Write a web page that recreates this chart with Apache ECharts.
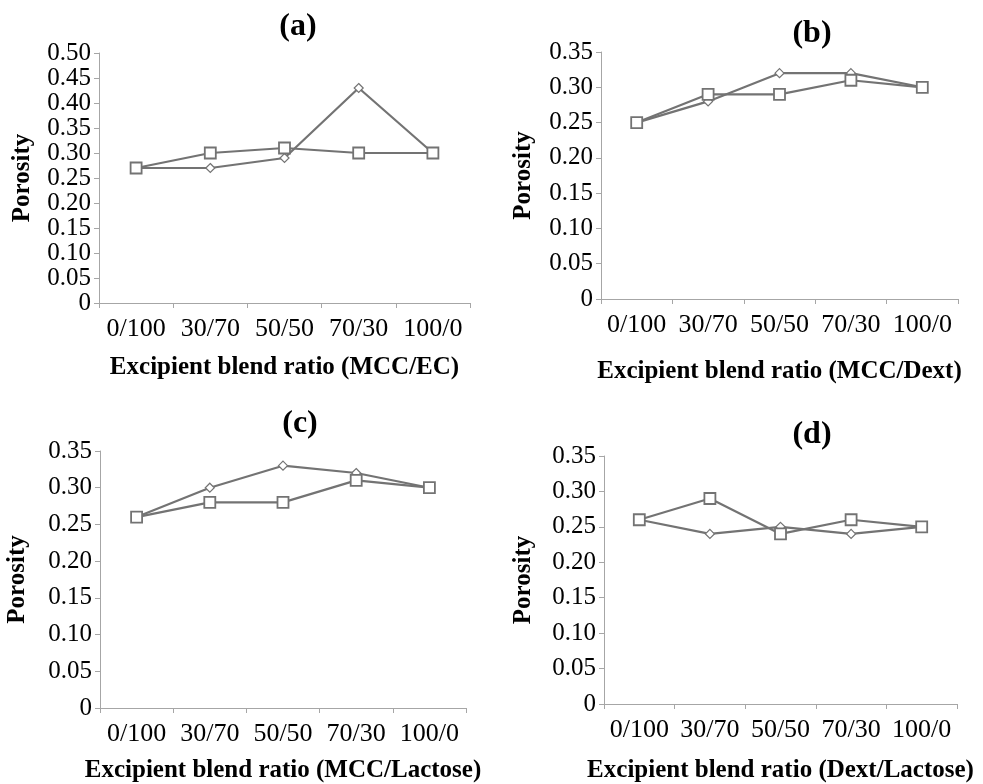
<!DOCTYPE html>
<html><head><meta charset="utf-8">
<script src="https://cdn.jsdelivr.net/npm/echarts@6/dist/echarts.min.js"></script>
<style>html,body{margin:0;padding:0;background:#fff}#c{width:983px;height:784px}</style>
</head><body><div id="c"></div>
<script>
const categories = ['0/100','30/70','50/50','70/30','100/0'];
const panelTitles = ['(a)','(b)','(c)','(d)'];
const xTitles = ['Excipient blend ratio (MCC/EC)','Excipient blend ratio (MCC/Dext)','Excipient blend ratio (MCC/Lactose)','Excipient blend ratio (Dext/Lactose)'];
const yMax = [0.50, 0.35, 0.35, 0.35];
const aDiamond = [0.27, 0.27, 0.29, 0.43, 0.30];
const aSquare  = [0.27, 0.30, 0.31, 0.30, 0.30];
const bDiamond = [0.25, 0.28, 0.32, 0.32, 0.30];
const bSquare  = [0.25, 0.29, 0.29, 0.31, 0.30];
const cDiamond = [0.26, 0.30, 0.33, 0.32, 0.30];
const cSquare  = [0.26, 0.28, 0.28, 0.31, 0.30];
const dDiamond = [0.26, 0.24, 0.25, 0.24, 0.25];
const dSquare  = [0.26, 0.29, 0.24, 0.26, 0.25];

const diamonds = [aDiamond, bDiamond, cDiamond, dDiamond];
const squares = [aSquare, bSquare, cSquare, dSquare];

const FONT = '"Liberation Serif", "Times New Roman", serif';
const grids = [
  {left: 99, top: 53, width: 371, height: 250},
  {left: 601, top: 52, width: 357, height: 247},
  {left: 100, top: 451, width: 366, height: 257},
  {left: 604, top: 456, width: 353, height: 251}
];
const titlePos = [[293, 6], [807, 13], [295, 403], [807, 414]];
const xNameGap = [52, 60, 50, 54];
const yNameGap = [64, 65, 70, 68];
const axisColor = '#a6a6a6';
const lineColor = '#737373';

const option = {
  animation: false,
  backgroundColor: '#fff',
  title: panelTitles.map((t, i) => ({
    text: t, left: titlePos[i][0], top: titlePos[i][1], textAlign: 'center',
    textStyle: {fontFamily: FONT, fontWeight: 'bold', fontSize: 32, color: '#000'}
  })),
  grid: grids.map(g => Object.assign({containLabel: false}, g)),
  xAxis: grids.map((g, i) => ({
    type: 'category', gridIndex: i, data: categories, boundaryGap: true,
    name: xTitles[i], nameLocation: 'middle', nameGap: xNameGap[i],
    nameTextStyle: {fontFamily: FONT, fontWeight: 'bold', fontSize: 25, color: '#000'},
    axisLine: {lineStyle: {color: axisColor, width: 1}},
    axisTick: {show: true, length: 5, lineStyle: {color: axisColor}},
    axisLabel: {fontFamily: FONT, fontSize: 26, color: '#000', margin: 13, interval: 0}
  })),
  yAxis: grids.map((g, i) => ({
    type: 'value', gridIndex: i, min: 0, max: yMax[i], interval: 0.05,
    name: 'Porosity', nameLocation: 'middle', nameGap: yNameGap[i], nameRotate: 90,
    nameTextStyle: {fontFamily: FONT, fontWeight: 'bold', fontSize: 25, color: '#000'},
    axisLine: {show: true, lineStyle: {color: axisColor, width: 1}},
    axisTick: {show: true, length: 5, lineStyle: {color: axisColor}},
    splitLine: {show: false},
    axisLabel: {fontFamily: FONT, fontSize: 25, color: '#000', margin: 8,
      showMinLabel: true, showMaxLabel: true, hideOverlap: false,
      formatter: v => (v === 0 ? '0' : v.toFixed(2))}
  })),
  series: []
};
for (let i = 0; i < 4; i++) {
  option.series.push({
    type: 'line', xAxisIndex: i, yAxisIndex: i, data: diamonds[i],
    symbol: 'diamond', symbolSize: 9, showAllSymbol: true,
    lineStyle: {color: lineColor, width: 2.2},
    itemStyle: {color: '#fff', borderColor: lineColor, borderWidth: 1.2}
  });
  option.series.push({
    type: 'line', xAxisIndex: i, yAxisIndex: i, data: squares[i],
    symbol: 'rect', symbolSize: 11, showAllSymbol: true,
    lineStyle: {color: lineColor, width: 2.2},
    itemStyle: {color: '#fff', borderColor: lineColor, borderWidth: 1.8}
  });
}
const chart = echarts.init(document.getElementById('c'), null, {renderer: 'canvas'});
chart.setOption(option);
</script>
</body></html>
